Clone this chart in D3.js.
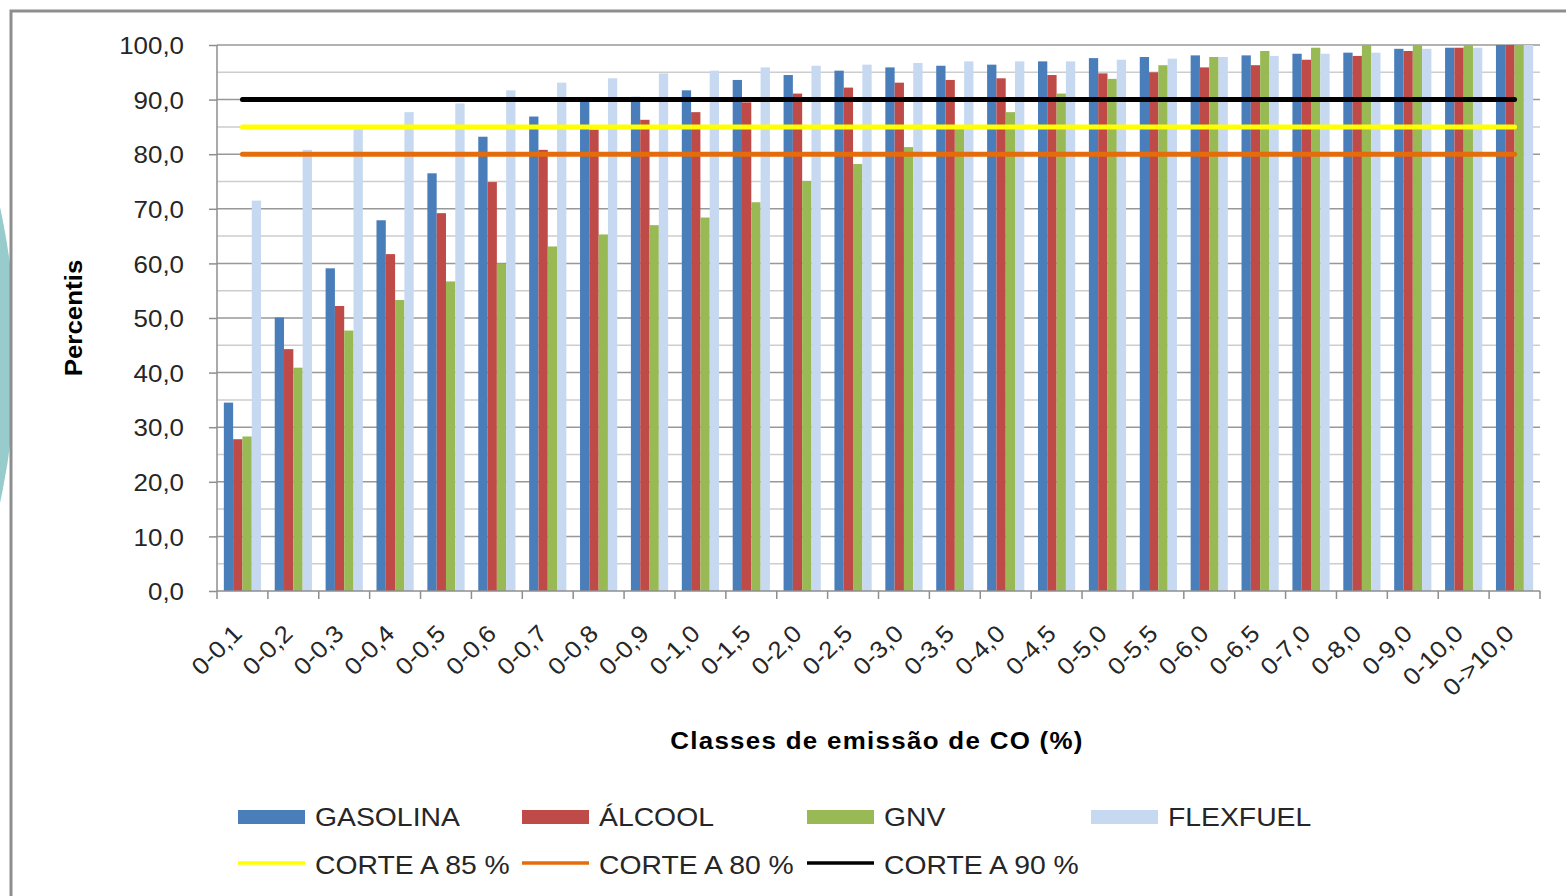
<!DOCTYPE html>
<html>
<head>
<meta charset="utf-8">
<script src="https://cdn.jsdelivr.net/npm/d3@7"></script>
<style>
  html, body { margin: 0; padding: 0; background: #fff; }
  svg { display: block; }
  text { font-family: "Liberation Sans", Arial, sans-serif; }
</style>
</head>
<body>
<svg id="chart" width="1566" height="896"></svg>
<script>
// ---- data ----
const categories = ["0-0,1","0-0,2","0-0,3","0-0,4","0-0,5","0-0,6","0-0,7","0-0,8","0-0,9","0-1,0",
  "0-1,5","0-2,0","0-2,5","0-3,0","0-3,5","0-4,0","0-4,5","0-5,0","0-5,5","0-6,0",
  "0-6,5","0-7,0","0-8,0","0-9,0","0-10,0","0->10,0"];
const gasolina = [34.5,50.1,59.1,67.9,76.5,83.2,86.9,89.6,90.5,91.7,93.6,94.5,95.3,95.9,96.2,96.4,97.0,97.6,97.8,98.1,98.1,98.4,98.6,99.3,99.5,100];
const alcool   = [27.8,44.3,52.2,61.7,69.2,74.9,80.8,84.5,86.3,87.7,89.5,91.1,92.2,93.1,93.6,93.9,94.5,94.8,95.0,95.9,96.3,97.3,98.0,98.9,99.5,100];
const gnv      = [28.3,40.9,47.7,53.3,56.7,59.9,63.1,65.3,67.0,68.4,71.2,75.1,78.2,81.3,84.7,87.7,91.1,93.8,96.3,97.8,98.9,99.5,100,100,100,100];
const flexfuel = [71.5,80.8,84.6,87.7,89.3,91.7,93.1,93.9,94.8,95.3,95.9,96.2,96.4,96.7,97.0,97.0,97.0,97.3,97.5,97.8,98.0,98.4,98.6,99.3,99.5,100];
const seriesNames = ["GASOLINA","ÁLCOOL","GNV","FLEXFUEL"];
const seriesColors = ["#4A7EBB","#BE4B48","#98B954","#C6D9F1"];
const cutNames = ["CORTE A 85 %","CORTE A 80 %","CORTE A 90 %"];
const cutValues = [85, 80, 90];
const cutColors = ["#FFFF00","#E46C0A","#000000"];
const yTicks = [0,10,20,30,40,50,60,70,80,90,100];
const yMinor = [5,15,25,35,45,55,65,75,85,95];
const yTitle = "Percentis";
const xTitle = "Classes de emissão de CO (%)";

const seriesData = [gasolina, alcool, gnv, flexfuel];
const SX = 1.08; // horizontal text stretch seen in the reference

const svg = d3.select("#chart");

// decorative teal shape at left edge
svg.append("clipPath").attr("id","leftclip").append("rect")
  .attr("x",0).attr("y",0).attr("width",11).attr("height",896);
svg.append("circle").attr("clip-path","url(#leftclip)")
  .attr("cx",-676).attr("cy",355).attr("r",692).attr("fill","#98CBCB");

// chart frame
svg.append("rect").attr("x",11).attr("y",11).attr("width",1600).attr("height",900)
  .attr("fill","#fff").attr("stroke","#8E8E8E").attr("stroke-width",3);

const L = 217, R = 1540, T = 45, B = 591;
const x = d3.scaleBand().domain(categories).range([L, R]).paddingInner(0).paddingOuter(0);
const xs = d3.scaleBand().domain(seriesNames).range([0, x.bandwidth()]).paddingInner(0).paddingOuter(0.735);
const y = d3.scaleLinear().domain([0, 100]).range([B, T]);

// minor gridlines
svg.append("g").selectAll("line").data(yMinor).join("line")
  .attr("x1", L).attr("x2", R).attr("y1", d => y(d)).attr("y2", d => y(d))
  .attr("stroke", "#CDCDCD").attr("stroke-width", 1.5);
// major gridlines
svg.append("g").selectAll("line").data(yTicks.filter(d => d > 0)).join("line")
  .attr("x1", L).attr("x2", R).attr("y1", d => y(d)).attr("y2", d => y(d))
  .attr("stroke", "#989898").attr("stroke-width", 1.5);

// bars
const groups = svg.append("g").selectAll("g").data(seriesNames).join("g")
  .attr("fill", (d, i) => seriesColors[i]);
groups.selectAll("rect").data((s, i) => seriesData[i].map((v, j) => ({s, v, c: categories[j]})))
  .join("rect")
  .attr("x", d => x(d.c) + xs(d.s))
  .attr("width", xs.bandwidth())
  .attr("y", d => y(d.v))
  .attr("height", d => y(0) - y(d.v));

// y axis
const fmt = d => d3.format(".1f")(d).replace(".", ",");
const yAxis = d3.axisLeft(y).tickValues(yTicks).tickSize(8).tickPadding(24).tickFormat(fmt);
const gy = svg.append("g").attr("transform", `translate(${L},0)`).call(yAxis);
gy.select(".domain").attr("stroke", "#8E8E8E").attr("stroke-width", 1.5).attr("d", `M0,${T}V${B}`);
gy.selectAll(".tick line").attr("stroke", "#8E8E8E").attr("stroke-width", 1.5);
gy.selectAll(".tick text")
  .attr("x", null).attr("dy", null)
  .attr("transform", `translate(-33,0) scale(${SX},1)`)
  .attr("dominant-baseline", "central")
  .attr("font-size", 24).attr("fill", "#262626")
  .attr("font-family", "'Liberation Sans', Arial, sans-serif");

// x axis
const gx = svg.append("g").attr("transform", `translate(0,${B})`);
gx.append("line").attr("x1", L).attr("x2", R).attr("y1", 0).attr("y2", 0)
  .attr("stroke", "#8E8E8E").attr("stroke-width", 1.5);
const boundaries = categories.map(c => x(c)).concat([R]);
gx.selectAll("line.tk").data(boundaries).join("line").attr("class","tk")
  .attr("x1", d => d).attr("x2", d => d).attr("y1", 0).attr("y2", 8)
  .attr("stroke", "#8E8E8E").attr("stroke-width", 1.5);
gx.selectAll("text").data(categories).join("text")
  .attr("transform", d => `translate(${x(d) + x.bandwidth()/2 - 5},${38}) rotate(-45) scale(${SX},1)`)
  .attr("text-anchor", "end")
  .attr("dy", "0.35em")
  .attr("font-size", 24).attr("fill", "#262626")
  .text(d => d);

// cut lines
const cx0 = x(categories[0]) + x.bandwidth()/2;
const cx1 = x(categories[categories.length-1]) + x.bandwidth()/2;
cutValues.forEach((v, i) => {
  svg.append("line").attr("x1", cx0).attr("x2", cx1).attr("y1", y(v)).attr("y2", y(v))
    .attr("stroke", cutColors[i]).attr("stroke-width", 5).attr("stroke-linecap", "round");
});

// axis titles
svg.append("text").attr("transform", `translate(82,318) rotate(-90) scale(${SX},1)`)
  .attr("text-anchor", "middle").attr("font-size", 24).attr("font-weight", "bold")
  .attr("fill", "#000").text(yTitle);
svg.append("text").attr("transform", `translate(877,749) scale(${SX},1)`)
  .attr("text-anchor", "middle").attr("font-size", 24).attr("font-weight", "bold")
  .attr("fill", "#000").attr("letter-spacing", 1.2).text(xTitle);

// legend
const legX = [238, 522, 807, 1091];
seriesNames.forEach((n, i) => {
  svg.append("rect").attr("x", legX[i]).attr("y", 810).attr("width", 67).attr("height", 14)
    .attr("fill", seriesColors[i]);
  svg.append("text").attr("transform", `translate(${legX[i] + 77},826) scale(${SX + 0.01},1)`)
    .attr("font-size", 26).attr("fill", "#262626").text(n);
});
cutNames.forEach((n, i) => {
  svg.append("line").attr("x1", legX[i]).attr("x2", legX[i] + 67).attr("y1", 863).attr("y2", 863)
    .attr("stroke", cutColors[i]).attr("stroke-width", 3.5);
  svg.append("text").attr("transform", `translate(${legX[i] + 77},874) scale(${SX + 0.01},1)`)
    .attr("font-size", 26).attr("fill", "#262626").text(n);
});
</script>
</body>
</html>
